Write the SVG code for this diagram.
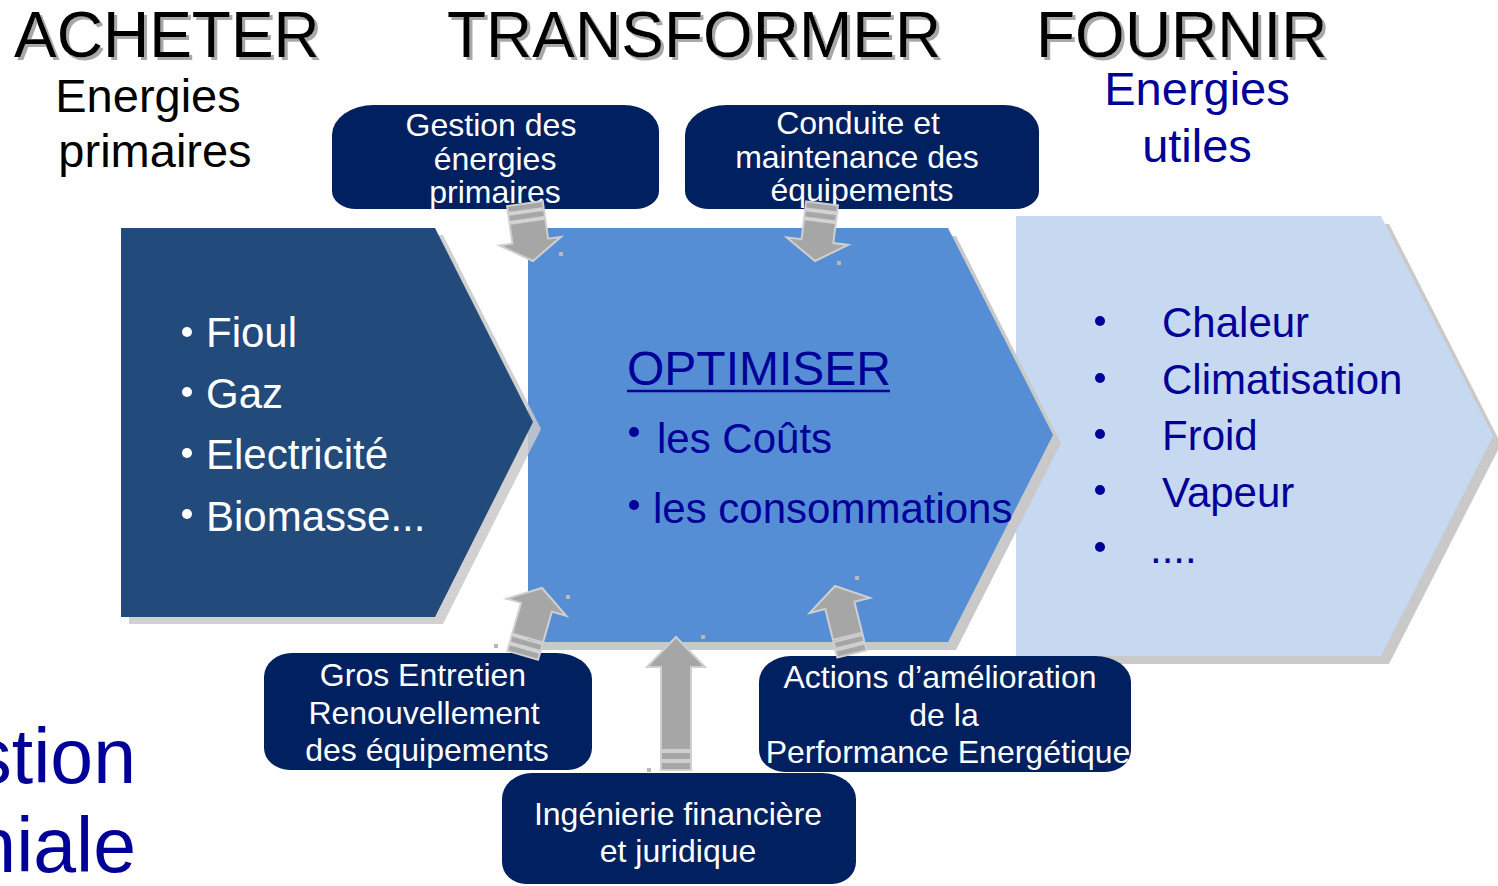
<svg xmlns="http://www.w3.org/2000/svg" width="1498" height="886" viewBox="0 0 1498 886">
<defs>
  <filter id="tsh" x="-5%" y="-10%" width="115%" height="130%">
    <feDropShadow dx="3" dy="3" stdDeviation="0.6" flood-color="#a8a8a8" flood-opacity="1"/>
  </filter>
</defs>
<style>
text{font-family:"Liberation Sans",Arial,sans-serif}
.title{font-size:64px;fill:#000}
.sub{font-size:47px;fill:#000}
.navy{fill:#000099}
.box{fill:#002060}
.bt{font-size:32px;fill:#fff;text-anchor:middle}
.li{font-size:42px;fill:#fff}
.ln{font-size:42px;fill:#000099}
.big{font-size:48px}
.huge{font-size:77px}
.shadow{fill:#c9c9c9}
.arr{fill:#a6a6a6;stroke:#cfcfcf;stroke-width:2;stroke-linejoin:miter}
.dot{fill:#b8b8b8}
</style>

<g id="titles">
  <text class="title" x="14" y="57" filter="url(#tsh)">ACHETER</text>
  <text class="title" x="447" y="57" filter="url(#tsh)">TRANSFORMER</text>
  <text class="title" x="1036" y="57" filter="url(#tsh)">FOURNIR</text>
  <text class="sub" x="148" y="112" text-anchor="middle">Energies</text>
  <text class="sub" x="155" y="167" text-anchor="middle">primaires</text>
  <text class="sub navy" x="1197" y="105" text-anchor="middle">Energies</text>
  <text class="sub navy" x="1197" y="162" text-anchor="middle">utiles</text>
  <text class="navy huge" x="136" y="783" text-anchor="end">stion</text>
  <text class="navy huge" x="136" y="872" text-anchor="end">niale</text>
</g>

<g id="fournir">
  <polygon class="shadow" points="1024,224 1389,224 1501,444 1389,664 1024,664"/>
  <polygon fill="#c6d9f1" points="1016,216 1381,216 1493,436 1381,656 1016,656"/>
  <circle class="navy" cx="1100" cy="321" r="5"/>
  <circle class="navy" cx="1100" cy="378" r="5"/>
  <circle class="navy" cx="1100" cy="434" r="5"/>
  <circle class="navy" cx="1100" cy="490" r="5"/>
  <circle class="navy" cx="1100" cy="547" r="5"/>
  <text class="ln" x="1162" y="337">Chaleur</text>
  <text class="ln" x="1162" y="394">Climatisation</text>
  <text class="ln" x="1162" y="450">Froid</text>
  <text class="ln" x="1162" y="507">Vapeur</text>
  <text class="ln" x="1150" y="563">....</text>
</g>

<g id="transformer">
  <polygon class="shadow" points="536,236 956,236 1061,443 956,650 536,650"/>
  <polygon fill="#558ed5" points="528,228 948,228 1053,435 948,642 528,642"/>
  <text class="ln big" x="627" y="385">OPTIMISER</text>
  <line x1="627" y1="391" x2="890" y2="391" stroke="#000099" stroke-width="2.5"/>
  <circle class="navy" cx="634" cy="432" r="5"/>
  <text class="ln" x="657" y="453">les Coûts</text>
  <circle class="navy" cx="634" cy="505" r="5"/>
  <text class="ln" x="653" y="523">les consommations</text>
</g>

<g id="acheter">
  <polygon class="shadow" opacity="0.85" points="129,235 443,235 541,429 443,624 129,624"/>
  <polygon fill="#224a7a" points="121,228 435,228 533,422 435,617 121,617"/>
  <circle fill="#fff" cx="187" cy="332" r="5"/>
  <circle fill="#fff" cx="187" cy="392" r="5"/>
  <circle fill="#fff" cx="187" cy="453" r="5"/>
  <circle fill="#fff" cx="187" cy="514" r="5"/>
  <text class="li" x="206" y="347">Fioul</text>
  <text class="li" x="206" y="408">Gaz</text>
  <text class="li" x="206" y="469">Electricité</text>
  <text class="li" x="206" y="531">Biomasse...</text>
</g>

<g id="box-gestion">
  <path class="box" d="M332,135 A42,30 0 0 1 374,105 L624,105 A35,26 0 0 1 659,131 L659,191 A24,18 0 0 1 635,209 L356,209 A24,18 0 0 1 332,191 Z"/>
  <text class="bt" x="491" y="136">Gestion des</text>
  <text class="bt" x="495" y="170">énergies</text>
  <text class="bt" x="495" y="203">primaires</text>
</g>

<g id="box-conduite">
  <path class="box" d="M685,135 A42,30 0 0 1 727,105 L1004,105 A35,26 0 0 1 1039,131 L1039,191 A24,18 0 0 1 1015,209 L709,209 A24,18 0 0 1 685,191 Z"/>
  <text class="bt" x="858" y="134">Conduite et</text>
  <text class="bt" x="857" y="168">maintenance des</text>
  <text class="bt" x="862" y="201">équipements</text>
</g>

<g id="box-gros">
  <path class="box" d="M264,677 A28,24 0 0 1 292,653 L556,653 A36,26 0 0 1 592,679 L592,748 A24,22 0 0 1 568,770 L290,770 A26,22 0 0 1 264,748 Z"/>
  <text class="bt" x="423" y="686">Gros Entretien</text>
  <text class="bt" x="424" y="724">Renouvellement</text>
  <text class="bt" x="427" y="761">des équipements</text>
</g>

<g id="box-ingenierie">
  <path class="box" d="M502,799 A30,26 0 0 1 532,773 L822,773 A34,26 0 0 1 856,799 L856,862 A24,22 0 0 1 832,884 L526,884 A24,22 0 0 1 502,862 Z"/>
  <text class="bt" x="678" y="825">Ingénierie financière</text>
  <text class="bt" x="678" y="862">et juridique</text>
</g>

<g id="box-actions">
  <path class="box" d="M759,682 A32,26 0 0 1 791,656 L1095,656 A36,26 0 0 1 1131,682 L1131,750 A26,22 0 0 1 1105,772 L785,772 A26,22 0 0 1 759,750 Z"/>
  <text class="bt" x="940" y="688">Actions d’amélioration</text>
  <text class="bt" x="944" y="726">de la</text>
  <text class="bt" x="948" y="763">Performance Energétique</text>
</g>

<g id="connectors">
  <g transform="translate(533,261) rotate(172)">
    <path class="arr" d="M0,0 L31,20 L18,20 L18,40 L-18,40 L-18,20 L-31,20 Z"/>
    <rect class="arr" x="-18" y="42" width="36" height="7"/>
    <rect class="arr" x="-18" y="51" width="36" height="7"/>
  </g>
  <g transform="translate(815,261) rotate(187)">
    <path class="arr" d="M0,0 L31,20 L16,20 L16,40 L-16,40 L-16,20 L-31,20 Z"/>
    <rect class="arr" x="-16" y="42" width="32" height="7"/>
    <rect class="arr" x="-16" y="51" width="32" height="7"/>
  </g>
  <g transform="translate(542,588) rotate(16)">
    <path class="arr" d="M0,0 L31,20 L16,20 L16,52 L-16,52 L-16,20 L-31,20 Z"/>
    <rect class="arr" x="-16" y="54" width="32" height="7"/>
    <rect class="arr" x="-16" y="63" width="32" height="7"/>
  </g>
  <g transform="translate(676,637)">
    <path class="arr" d="M0,0 L29,30 L15,30 L15,113 L-15,113 L-15,30 L-29,30 Z"/>
    <rect class="arr" x="-15" y="115" width="30" height="8"/>
    <rect class="arr" x="-15" y="125" width="30" height="8"/>
  </g>
  <g transform="translate(835,586) rotate(-14)">
    <path class="arr" d="M0,0 L31,20 L15,20 L15,52 L-15,52 L-15,20 L-31,20 Z"/>
    <rect class="arr" x="-15" y="54" width="30" height="7"/>
    <rect class="arr" x="-15" y="63" width="30" height="7"/>
  </g>
  <rect class="dot" x="559" y="252" width="4" height="4"/>
  <rect class="dot" x="837" y="261" width="4" height="4"/>
  <rect class="dot" x="566" y="595" width="4" height="4"/>
  <rect class="dot" x="494" y="644" width="4" height="4"/>
  <rect class="dot" x="701" y="635" width="4" height="4"/>
  <rect class="dot" x="855" y="576" width="4" height="4"/>
  <rect class="dot" x="647" y="768" width="4" height="4"/>
</g>
</svg>
